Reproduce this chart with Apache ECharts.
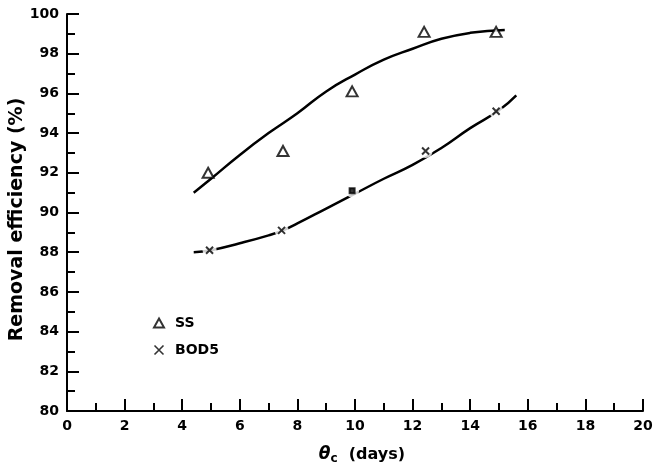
<!DOCTYPE html>
<html>
<head>
<meta charset="utf-8">
<script src="https://cdn.jsdelivr.net/npm/echarts@6/dist/echarts.min.js"></script>
<style>
  html, body { margin: 0; padding: 0; background: #fff; }
  #chart { width: 653px; height: 474px; }
</style>
</head>
<body>
<div id="chart"></div>
<script>
// measured points
const ssPoints = [[4.9, 92.0], [7.5, 93.1], [9.9, 96.1], [12.4, 99.1], [14.9, 99.1]]
const bodPoints = [[4.95, 88.1], [7.45, 89.1], [9.9, 91.1], [12.45, 93.1], [14.9, 95.1]]

// hand-drawn fitted curves
const ssCurve = [[4.4, 91.0], [5, 91.7], [6, 92.9], [7, 94.0], [8, 95.0], [9, 96.1], [10, 96.95],
  [11, 97.7], [12, 98.25], [13, 98.75], [14, 99.05], [15.2, 99.2]]
const bodCurve = [[4.4, 88.0], [5, 88.1], [6, 88.45], [7, 88.85], [7.5, 89.1], [8, 89.45], [9, 90.2],
  [10, 90.95], [11, 91.7], [12, 92.4], [13, 93.25], [14, 94.25], [15, 95.15], [15.6, 95.9]]

const xTicks = { min: 0, max: 20, step: 2 }
const yTicks = { min: 80, max: 100, step: 2 }

const crossPath = 'path://M0,0L10,10M10,0L0,10'
const font = 'DejaVu Sans'

function axisCommon(range) {
  return {
    type: 'value',
    min: range.min,
    max: range.max,
    interval: range.step,
    axisLine: { lineStyle: { color: '#000', width: 2 } },
    axisTick: { inside: true, length: 12, lineStyle: { color: '#000', width: 2 } },
    minorTick: { show: true, splitNumber: 2, length: 8, lineStyle: { color: '#000', width: 2 } },
    splitLine: { show: false },
    minorSplitLine: { show: false },
    axisLabel: { color: '#000', fontFamily: font, fontWeight: 'bold', fontSize: 14 }
  }
}

const chart = echarts.init(document.getElementById('chart'))
chart.setOption({
  animation: false,
  backgroundColor: '#fff',
  grid: { left: 67, right: 10, top: 14, bottom: 63, outerBoundsMode: 'none', containLabel: false },
  legend: {
    orient: 'vertical',
    left: 148,
    top: 311,
    itemGap: 13,
    itemWidth: 10,
    itemHeight: 9,
    data: ['SS', { name: 'BOD5', itemStyle: { borderWidth: 1.6 } }],
    textStyle: { color: '#000', fontFamily: font, fontWeight: 'bold', fontSize: 14, padding: [0, 0, 0, 6] }
  },
  xAxis: Object.assign(axisCommon(xTicks), {
    name: '{t|θ}{s|c}  (days)',
    nameLocation: 'middle',
    nameGap: 34,
    nameMoveOverlap: false,
    nameTextStyle: {
      color: '#000', fontFamily: font, fontWeight: 'bold', fontSize: 16,
      padding: [0, 0, 0, 14],
      rich: {
        t: { fontFamily: font, fontStyle: 'italic', fontWeight: 'bold', fontSize: 17, color: '#000' },
        s: { fontFamily: font, fontWeight: 'bold', fontSize: 12, color: '#000', padding: [8, 0, 0, 0] }
      }
    }
  }),
  yAxis: Object.assign(axisCommon(yTicks), {
    name: 'Removal efficiency (%)',
    nameLocation: 'middle',
    nameGap: 40,
    nameMoveOverlap: false,
    nameTextStyle: { color: '#000', fontFamily: font, fontWeight: 'bold', fontSize: 19, padding: [0, 0, 0, -14] }
  }),
  series: [
    {
      name: 'ss-curve',
      type: 'line',
      smooth: true,
      symbol: 'none',
      z: 2,
      data: ssCurve,
      lineStyle: { color: '#000', width: 2.5 }
    },
    {
      name: 'bod-curve',
      type: 'line',
      smooth: true,
      symbol: 'none',
      z: 2,
      data: bodCurve,
      lineStyle: { color: '#000', width: 2.5 }
    },
    {
      // white gaps where the curve breaks around the crosses
      name: 'gap',
      type: 'scatter',
      symbol: 'circle',
      symbolSize: 14,
      z: 3,
      silent: true,
      data: bodPoints,
      itemStyle: { color: '#fff' }
    },
    {
      name: 'SS',
      type: 'scatter',
      symbol: 'emptyTriangle',
      symbolSize: [11, 10],
      z: 4,
      data: ssPoints,
      itemStyle: { color: '#000', borderWidth: 2.2 }
    },
    {
      name: 'BOD5',
      type: 'scatter',
      symbol: crossPath,
      symbolSize: 7,
      z: 4,
      data: bodPoints.map((p, i) => i === 2
        ? { value: p, symbol: 'rect', symbolSize: 5, itemStyle: { color: '#000' } }
        : p),
      itemStyle: { color: 'transparent', borderColor: '#000', borderWidth: 2 }
    }
  ]
})
</script>
</body>
</html>
